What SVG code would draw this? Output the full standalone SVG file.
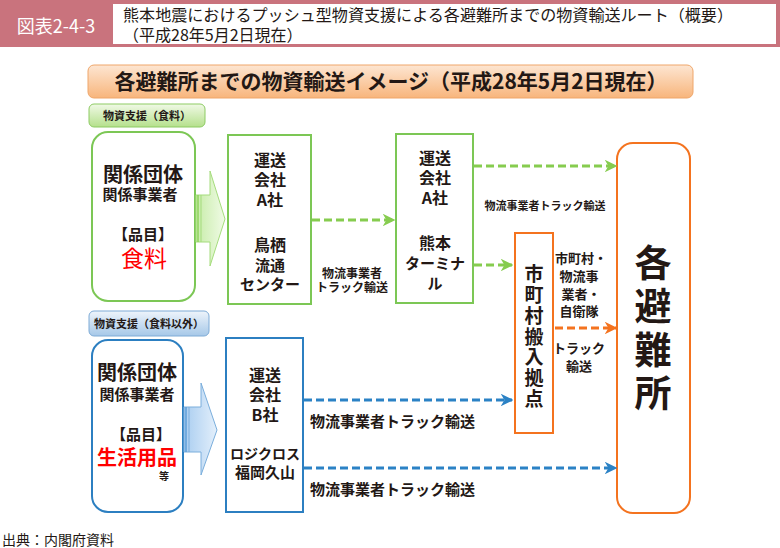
<svg xmlns="http://www.w3.org/2000/svg" width="780" height="548" viewBox="0 0 780 548">
<defs>
<style>
text{font-family:"Noto Sans CJK JP","Noto Sans",sans-serif;fill:#231815}
.b{font-weight:bold}
.c{text-anchor:middle}
.red{fill:#ff0000}
.gbox{fill:#fff;stroke:#7cc755;stroke-width:2}
.bbox{fill:#fff;stroke:#2c7fc1;stroke-width:2}
.obox{fill:#fff;stroke:#f4731f;stroke-width:2}
.gd{fill:none;stroke:#86cc4f;stroke-width:3;stroke-dasharray:8 4}
.bd{fill:none;stroke:#2b82c5;stroke-width:3;stroke-dasharray:8 4}
.od{fill:none;stroke:#f4731f;stroke-width:3;stroke-dasharray:8 4}
</style>
<linearGradient id="banner" x1="0" y1="0" x2="0" y2="1">
<stop offset="0" stop-color="#fde6d2"/>
<stop offset="1" stop-color="#f8b57c"/>
</linearGradient>
<linearGradient id="glab" x1="0" y1="0" x2="0" y2="1">
<stop offset="0" stop-color="#f0f9e6"/>
<stop offset="1" stop-color="#b5e08c"/>
</linearGradient>
<linearGradient id="blab" x1="0" y1="0" x2="0" y2="1">
<stop offset="0" stop-color="#eef4fb"/>
<stop offset="1" stop-color="#a6c8e8"/>
</linearGradient>
<linearGradient id="garr" x1="0" y1="0" x2="1" y2="0">
<stop offset="0" stop-color="#c7eca8"/>
<stop offset="1" stop-color="#f0fbe6"/>
</linearGradient>
<linearGradient id="barr" x1="0" y1="0" x2="1" y2="0">
<stop offset="0" stop-color="#a9cdf0"/>
<stop offset="1" stop-color="#e3effb"/>
</linearGradient>
<marker id="mg" viewBox="0 0 10 10" refX="9" refY="5" markerWidth="4.2" markerHeight="4.2" orient="auto" markerUnits="strokeWidth">
<path d="M0,0 L10,5 L0,10 L3,5 Z" fill="#86cc4f"/>
</marker>
<marker id="mb" viewBox="0 0 10 10" refX="9" refY="5" markerWidth="4.2" markerHeight="4.2" orient="auto" markerUnits="strokeWidth">
<path d="M0,0 L10,5 L0,10 L3,5 Z" fill="#2b82c5"/>
</marker>
<marker id="mo" viewBox="0 0 10 10" refX="9" refY="5" markerWidth="4.2" markerHeight="4.2" orient="auto" markerUnits="strokeWidth">
<path d="M0,0 L10,5 L0,10 L3,5 Z" fill="#f4731f"/>
</marker>
</defs>
<rect width="780" height="548" fill="#fff"/>

<g id="header">
<rect x="0" y="0" width="780" height="47" fill="#c9737d"/>
<rect x="113" y="4" width="663" height="40" fill="#fff"/>
<text x="56" y="33" font-size="18" class="c" style="fill:#fff">図表2-4-3</text>
<text x="123" y="21" font-size="16" textLength="610" lengthAdjust="spacingAndGlyphs">熊本地震におけるプッシュ型物資支援による各避難所までの物資輸送ルート（概要）</text>
<text x="123" y="41" font-size="16">（平成28年5月2日現在）</text>
</g>

<g id="banner">
<rect x="88" y="65" width="605" height="33" rx="6" fill="url(#banner)" stroke="#efa66a" stroke-width="1"/>
<text x="391" y="89" font-size="21" class="b c">各避難所までの物資輸送イメージ（平成28年5月2日現在）</text>
</g>

<g id="label-food">
<rect x="89" y="104" width="116" height="23" rx="5" fill="url(#glab)" stroke="#8dcb63" stroke-width="1"/>
<text x="147" y="120" font-size="11" class="b c">物資支援（食料）</text>
</g>

<g id="label-nonfood">
<rect x="89" y="311" width="120" height="25" rx="5" fill="url(#blab)" stroke="#7eabd6" stroke-width="1"/>
<text x="149" y="328" font-size="11" class="b c">物資支援（食料以外）</text>
</g>

<g id="supplier-food">
<rect x="92" y="132" width="103" height="169" rx="16" class="gbox"/>
<text x="143" y="182" font-size="20" class="b c">関係団体</text>
<text x="140" y="200" font-size="15" class="b c">関係事業者</text>
<text x="143" y="240" font-size="15" class="b c">【品目】</text>
<text x="144" y="267" font-size="23" class="c red">食料</text>
</g>

<g id="arrow-food">
<polygon points="196,195 210,195 210,171 225,219 210,266 210,242 196,242" fill="url(#garr)" stroke="#a5dc7d" stroke-width="1"/>
<line x1="198" y1="195" x2="198" y2="242" stroke="#8fd25e" stroke-width="1.5"/>
<line x1="201" y1="195" x2="201" y2="242" stroke="#a5dc7d" stroke-width="1"/>
</g>

<g id="carrier-a-tosu">
<rect x="228" y="135" width="83" height="169" class="gbox"/>
<text x="270" y="166" font-size="16" class="b c">運送</text>
<text x="270" y="186" font-size="16" class="b c">会社</text>
<text x="270" y="206" font-size="16" class="b c">A社</text>
<text x="270" y="251" font-size="16" class="b c">鳥栖</text>
<text x="270" y="271" font-size="15" class="b c">流通</text>
<text x="270" y="290" font-size="15" class="b c">センター</text>
</g>

<g id="carrier-a-kumamoto">
<rect x="396" y="134" width="77" height="169" class="gbox"/>
<text x="435" y="164" font-size="16" class="b c">運送</text>
<text x="435" y="184" font-size="16" class="b c">会社</text>
<text x="435" y="204" font-size="16" class="b c">A社</text>
<text x="435" y="249" font-size="16" class="b c">熊本</text>
<text x="435" y="269" font-size="15" class="b c">ターミナ</text>
<text x="435" y="289" font-size="15" class="b c">ル</text>
</g>

<g id="supplier-nonfood">
<rect x="92" y="340" width="91" height="172" rx="16" class="bbox"/>
<text x="137" y="380" font-size="20" class="b c">関係団体</text>
<text x="137" y="400" font-size="15" class="b c">関係事業者</text>
<text x="141" y="440" font-size="15" class="b c">【品目】</text>
<text x="137" y="465" font-size="20" class="b c red">生活用品</text>
<text x="164" y="480" font-size="10" class="b c">等</text>
</g>

<g id="arrow-nonfood">
<polygon points="184,407 201,407 201,383 217,430 201,475 201,452 184,452" fill="url(#barr)" stroke="#7aaedc" stroke-width="1"/>
<line x1="186" y1="407" x2="186" y2="452" stroke="#5e9fd8" stroke-width="1.5"/>
<line x1="189" y1="407" x2="189" y2="452" stroke="#7aaedc" stroke-width="1"/>
</g>

<g id="carrier-b">
<rect x="226" y="338" width="77" height="174" class="bbox"/>
<text x="265" y="381" font-size="16" class="b c">運送</text>
<text x="265" y="401" font-size="16" class="b c">会社</text>
<text x="265" y="421" font-size="16" class="b c">B社</text>
<text x="265" y="459" font-size="14" class="b c">ロジクロス</text>
<text x="265" y="478" font-size="15" class="b c">福岡久山</text>
</g>

<g id="municipal-hub">
<rect x="515" y="233" width="38" height="200" class="obox"/>
<g font-size="19" class="b c">
<text x="534" y="281">市</text>
<text x="534" y="302">町</text>
<text x="534" y="323">村</text>
<text x="534" y="344">搬</text>
<text x="534" y="364">入</text>
<text x="534" y="385">拠</text>
<text x="534" y="406">点</text>
</g>
</g>

<g id="shelters">
<rect x="617" y="143" width="73" height="370" rx="16" class="obox"/>
<g font-size="37" class="b c">
<text x="653" y="277">各</text>
<text x="653" y="320">避</text>
<text x="653" y="364">難</text>
<text x="653" y="407">所</text>
</g>
</g>

<g id="connectors">
<line x1="312" y1="220" x2="394" y2="220" class="gd" marker-end="url(#mg)"/>
<line x1="474" y1="166" x2="616" y2="166" class="gd" marker-end="url(#mg)"/>
<line x1="474" y1="265" x2="512" y2="265" class="gd" marker-end="url(#mg)"/>
<line x1="555" y1="328" x2="616" y2="328" class="od" marker-end="url(#mo)"/>
<line x1="304" y1="400" x2="512" y2="400" class="bd" marker-end="url(#mb)"/>
<line x1="304" y1="468" x2="616" y2="468" class="bd" marker-end="url(#mb)"/>
</g>

<g id="connector-labels">
<text x="352" y="278" font-size="12" class="b c">物流事業者</text>
<text x="352" y="292" font-size="12" class="b c">トラック輸送</text>
<text x="545" y="210" font-size="11" class="b c">物流事業者トラック輸送</text>
<text x="581" y="263" font-size="13" class="b c">市町村・</text>
<text x="579" y="281" font-size="13" class="b c">物流事</text>
<text x="581" y="299" font-size="13" class="b c">業者・</text>
<text x="579" y="316" font-size="13" class="b c">自衛隊</text>
<text x="579" y="353" font-size="13" class="b c">トラック</text>
<text x="579" y="371" font-size="13" class="b c">輸送</text>
<text x="310" y="427" font-size="15" class="b">物流事業者トラック輸送</text>
<text x="310" y="495" font-size="15" class="b">物流事業者トラック輸送</text>
</g>

<text x="2" y="545" font-size="14">出典：内閣府資料</text>
</svg>
